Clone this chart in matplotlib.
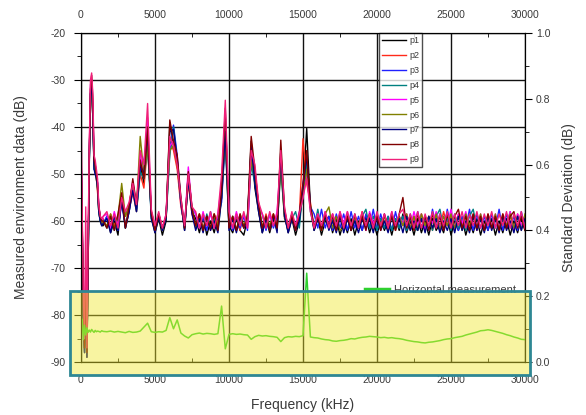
import numpy as np
import matplotlib
matplotlib.use('Agg')
import matplotlib.pyplot as plt
from matplotlib.patches import Rectangle
from matplotlib.lines import Line2D
from matplotlib.ticker import MultipleLocator

plt.rcParams['font.family'] = ['Liberation Sans', 'DejaVu Sans']
plt.rcParams['axes.unicode_minus'] = False

# frequency grid
freq_low = [0, 80, 160, 240, 320, 400, 480, 560, 640, 720, 800, 880, 960,
            1040, 1120, 1200, 1300, 1400, 1500]
freq = np.concatenate([freq_low, np.arange(1750, 30001, 250)])

labels = ['p1', 'p2', 'p3', 'p4', 'p5', 'p6', 'p7', 'p8', 'p9']
colors = ['black', '#ff2a1a', '#2020ff', '#008080', '#ff00ff', '#808000', '#000080', '#800000', '#f0207a']

p1 = [-46, -62, -82, -88, -74, -89, -70, -47, -33, -31, -38, -48, -49, -50, -53, -58, -60, -61, -61,
      -59, -62.5, -60, -63,
      -55, -61.5, -58, -53, -57, -48, -52, -42, -59, -62.5, -59.5, -63, -60, -39, -44, -48, -56, -62, -51, -58,
      -59.5, -62.5, -59, -63, -60, -62.5, -59, -54, -40, -61, -62.5, -59.5, -62, -63, -59.5, -43, -53, -58, -62.5, -59.5,
      -62.5, -59.5, -62, -45, -58.5, -62.5, -59.5, -63, -60, -54, -40.3, -57, -62, -59.5, -63, -60, -59, -62.5, -59.5, -63,
      -60, -62.5, -59.5, -63, -60, -62, -59, -62.5, -60, -63, -59.5, -62, -60, -63, -59.5, -62, -58.5, -62.5, -60, -63,
      -59.5, -62.5, -60, -63, -59.5, -62, -60.5, -62.5, -59, -63, -60, -62, -59.5, -63, -60, -62.5, -59.5, -63, -60, -62,
      -59.5, -63, -60, -62.5, -59.5, -63, -60, -62.5, -59.5, -62]
p2 = [-45, -60, -79, -86, -71, -87, -68, -46, -32, -30, -37, -47, -48, -51, -54, -57, -59, -60.5, -59.5,
      -61.5, -58.5, -61, -59,
      -56, -59, -57.5, -54, -58, -50, -53, -44, -58, -61.5, -58.5, -61.5, -59, -43, -45, -49, -57, -61, -52, -58.5,
      -61, -58.5, -61.5, -59, -62, -58.5, -60.5, -55, -38, -58.5, -61.5, -59, -62, -58.5, -61, -46, -50, -57, -61.5, -58.5,
      -61.5, -58.5, -61, -47, -59, -62, -58.5, -61.5, -59, -42.5, -52, -56, -61.5, -58.5, -62, -59, -61.5, -58.5, -61, -59,
      -61.5, -58.5, -62, -59, -61, -58, -61.5, -59, -62, -58.5, -61, -59, -62, -58.5, -61.5, -59, -61, -58.5, -62, -59,
      -61.5, -58.5, -61, -59, -62, -58.5, -61.5, -58, -61, -59, -62, -58.5, -61.5, -59, -61, -58.5, -62, -59, -61.5, -58.5,
      -61, -59, -62, -58.5, -61.5, -59, -62, -58.5, -61, -59]
p3 = [-45, -61, -80, -87, -73, -88, -69, -48, -34, -32, -36, -48, -50, -50, -52, -57, -59, -60, -60.5,
      -59, -61.5, -58.5, -62,
      -55.5, -61, -58, -52, -57.5, -49, -47, -43, -58.5, -61.5, -58.5, -62, -59, -45, -39.6, -46, -56, -61.5, -50, -57.5,
      -58.5, -61.5, -59, -62, -58, -61.5, -59, -56, -42, -58.5, -62, -58.5, -61.5, -59, -62, -47, -51, -57.5, -58.5, -62,
      -58.5, -61.5, -59, -48, -58, -61.5, -58.5, -62, -59, -52, -47, -57, -58.5, -61.5, -57.5, -61.5, -59, -62, -58.5, -61.5,
      -58.5, -62, -58, -61.5, -59, -62, -58.5, -61.5, -57.5, -62, -58.5, -61.5, -59, -62, -58, -61.5, -59, -62, -58.5, -61.5,
      -58, -61.5, -59, -62, -57.5, -61.5, -58.5, -62, -57.5, -61.5, -58.5, -62, -59, -61.5, -57.5, -62, -58.5, -61.5, -59, -62,
      -58.5, -61.5, -57.5, -62, -58.5, -61.5, -59, -62, -58, -61.5]
p4 = [-46, -63, -81, -88, -75, -87, -70, -47, -33, -31, -37, -49, -49, -51, -53, -58, -60, -59.5, -60,
      -61.5, -59, -62, -59.5,
      -55, -61.5, -57, -53, -58, -49.5, -51, -44, -59.5, -62, -59, -61.5, -59.5, -46, -40, -47, -55.5, -61.5, -51, -58,
      -61.5, -59, -62, -58.5, -61.5, -59.5, -62, -55, -43, -61.5, -59, -62, -59.5, -61.5, -58.5, -48, -52, -56.5, -61.5, -59,
      -62, -59, -61.5, -49, -59, -62, -59.5, -58, -61.5, -53, -48, -58, -61.5, -57.5, -62, -59, -61.5, -59.5, -62, -59,
      -61.5, -59, -62, -59.5, -61.5, -59, -57.5, -61.5, -59, -62, -59.5, -61.5, -59, -62, -59.5, -61.5, -59, -62, -59.5, -61.5,
      -62, -59, -61.5, -59.5, -62, -59, -57.5, -61.5, -59.5, -62, -59, -61.5, -59.5, -62, -59, -57.5, -61.5, -59, -62, -59.5,
      -61.5, -59, -62, -59.5, -61.5, -58, -62, -59, -61.5, -59.5]
p5 = [-44, -59, -78, -86, -70, -86, -66, -45, -31, -30, -35, -47, -48, -50, -52, -57, -59.5, -60, -59,
      -58.5, -61.5, -58, -61,
      -55.5, -58.5, -57, -51.5, -57, -46, -50, -38, -58, -61, -58.5, -61.5, -58.5, -44, -43, -47, -56.5, -61, -48.5, -57,
      -58.5, -61.5, -58, -61, -58.5, -61.5, -58.5, -52, -37, -58.5, -61.5, -58, -61, -58.5, -61.5, -45, -49, -57, -58.5, -61.5,
      -58.5, -61, -58, -46, -58, -61.5, -58.5, -61, -58, -55, -50, -57.5, -61, -58.5, -61.5, -58, -61, -58.5, -61.5, -58,
      -60.5, -58, -61.5, -59, -61, -58.5, -62, -58, -60.5, -59, -61.5, -58.5, -61, -58, -62, -59, -60.5, -58.5, -61.5, -58,
      -61, -58.5, -62, -59, -60.5, -58, -61.5, -59, -61, -57.5, -61.5, -58.5, -60.5, -58, -62, -59, -61, -58.5, -61.5, -59,
      -61, -58.5, -61.5, -59, -60.5, -58, -62, -58.5, -61, -59]
p6 = [-46, -62, -80, -87, -73, -88, -69, -48, -34, -32, -38, -48, -49, -51, -53, -57.5, -59.5, -60.5, -60,
      -61, -58.5, -61.5, -59,
      -52, -59, -56.5, -52, -57, -42, -50, -44, -58, -61.5, -58.5, -62, -59, -45, -44, -48, -56, -61.5, -50, -57,
      -61.5, -58.5, -62, -59, -61.5, -58.5, -61, -54, -41, -61.5, -59, -62, -58.5, -61, -59, -47, -51, -56, -61.5, -59,
      -61, -58.5, -62, -48, -59.5, -61.5, -58.5, -62, -59, -54, -49, -56.5, -61.5, -59, -62, -58.5, -57, -61.5, -59, -62,
      -61.5, -58.5, -62, -59, -61, -58.5, -61.5, -59, -62, -58.5, -61, -59, -61.5, -58.5, -62, -59, -61, -58.5, -61.5, -59,
      -62, -58.5, -61, -59, -61.5, -58.5, -62, -59, -61, -58.5, -61.5, -59, -62, -58.5, -61, -59, -61.5, -58.5, -62, -59,
      -61.5, -58.5, -62, -59, -61, -58.5, -61.5, -59, -62, -58.5]
p7 = [-45, -61, -81, -88, -74, -89, -70, -47, -33, -31, -38, -49, -50, -51, -53, -58, -60, -61, -60.5,
      -59.5, -62.5, -59, -62,
      -56, -61.5, -58, -53.5, -58, -48, -50, -41, -59.5, -62.5, -59, -62, -59.5, -41, -40.5, -47, -56, -62, -51, -58.5,
      -62, -59.5, -62.5, -59, -62, -60, -62.5, -55, -41, -62, -59.5, -62.5, -59, -61.5, -59.5, -44, -52, -58, -62.5, -59.5,
      -62, -59, -62.5, -46, -59, -62.5, -59.5, -62, -60, -53, -46, -57, -62, -59.5, -61.5, -59, -62, -60, -62.5, -59,
      -62.5, -59.5, -62, -60, -62.5, -59.5, -61.5, -59.5, -62.5, -59, -62, -60, -62.5, -59, -61.5, -59.5, -62.5, -59, -62, -60,
      -62, -59.5, -62.5, -59, -61.5, -59.5, -62.5, -60, -62, -59.5, -62.5, -59, -62, -60, -62.5, -59, -62, -59.5, -62.5, -59,
      -62, -59.5, -62.5, -59, -62, -60, -62.5, -59, -62, -59.5]
p8 = [-45, -60, -79, -87, -72, -88, -67, -46, -32, -29, -34, -47, -48, -50, -52, -57, -59, -60, -60,
      -61.5, -59, -62, -58.5,
      -54, -61.5, -57, -51, -56.5, -47, -51, -40, -58.5, -62, -58.5, -61.5, -59, -38.5, -43, -46, -55, -61.5, -49.5, -57.5,
      -61, -58.5, -62, -59, -61.5, -58.5, -62, -53, -36, -61.5, -59, -62, -58.5, -61.5, -59, -42, -49, -56.5, -61.5, -59,
      -62, -58.5, -61.5, -42.8, -57.5, -61.5, -59, -62, -58.5, -52, -45, -57, -61.5, -59, -62, -58.5, -61, -59, -62, -58.5,
      -61.5, -59, -62, -58.5, -61.5, -59, -62, -58.5, -61.5, -59, -62, -58.5, -61.5, -59, -62, -58.5, -55, -61.5, -59, -62,
      -58.5, -61.5, -59, -62, -58.5, -61.5, -59, -62, -58.5, -61.5, -59, -57.5, -61.5, -59, -62, -58.5, -61.5, -59, -62, -58.5,
      -61.5, -59, -62, -58.5, -61.5, -59, -58, -61.5, -59, -62]
p9 = [-34, -58, -76, -85, -57, -87, -64, -44, -30, -28.5, -33, -46, -47, -49, -51, -56.5, -59, -59.5, -59,
      -58, -61, -58.5, -61.5,
      -55, -58, -56, -52, -56.5, -45, -48, -35, -57.5, -61, -58, -61.5, -58.5, -42, -44, -48, -55, -61, -50, -57,
      -58, -61.5, -58.5, -61, -58, -61.5, -58.5, -50, -34.3, -58, -61.5, -58.5, -61, -58, -61.5, -45, -48, -56, -58.5, -61.5,
      -58, -61, -58.5, -45, -57, -61.5, -58, -61, -58.5, -55, -51, -58, -61.5, -58.5, -61, -58, -61.5, -58.5, -61, -58,
      -61.5, -58, -61, -58.5, -61.5, -58, -61, -58.5, -61.5, -58, -61, -58.5, -61.5, -58, -61, -58.5, -57.5, -61, -58.5, -61.5,
      -58, -61.5, -58.5, -61, -58, -61.5, -58.5, -61, -58, -61.5, -58.5, -61, -58, -61.5, -58.5, -61, -58, -61.5, -58.5, -61,
      -58, -61.5, -58.5, -61, -58, -61.5, -58.5, -61, -58, -61.5]
series = [p1, p2, p3, p4, p5, p6, p7, p8, p9]

# standard deviation of the horizontal measurement (right axis)
std_dev = [0.100, 0.130, 0.068, 0.112, 0.082, 0.104, 0.090, 0.097, 0.091, 0.099, 0.094, 0.090, 0.096,
           0.092, 0.094, 0.093, 0.091, 0.095, 0.093,
           0.092, 0.094, 0.091, 0.093,
           0.091, 0.089, 0.093, 0.090, 0.091, 0.094, 0.106, 0.118, 0.092, 0.090, 0.092, 0.091, 0.096, 0.135,
           0.101, 0.128, 0.088, 0.079, 0.073, 0.083,
           0.086, 0.088, 0.085, 0.087, 0.086, 0.084, 0.086, 0.170, 0.040, 0.084, 0.086, 0.084, 0.085, 0.083,
           0.082, 0.069, 0.077, 0.081, 0.079, 0.080,
           0.078, 0.077, 0.075, 0.062, 0.074, 0.077, 0.076, 0.078, 0.077, 0.080, 0.270, 0.076, 0.074, 0.073,
           0.070, 0.068, 0.067, 0.064, 0.063, 0.065,
           0.066, 0.068, 0.071, 0.070, 0.073, 0.075, 0.076, 0.078, 0.077, 0.076, 0.074, 0.075, 0.073, 0.074,
           0.072, 0.071, 0.069, 0.066, 0.064, 0.062,
           0.061, 0.059, 0.058, 0.060, 0.061, 0.063, 0.065, 0.068, 0.070, 0.071, 0.074, 0.076, 0.078, 0.082,
           0.085, 0.088, 0.091, 0.095, 0.096, 0.098,
           0.096, 0.093, 0.090, 0.087, 0.083, 0.080, 0.076, 0.073, 0.069, 0.068]

text_color = '#3a3a3a'

fig = plt.figure(figsize=(5.86, 4.15), dpi=100)
ax = fig.add_axes([81 / 586, 1 - 362 / 415, 444 / 586, 329 / 415])

for vals, lab, col in zip(series, labels, colors):
    ax.plot(freq, vals, color=col, lw=1.0, label=lab)

ax.set_xlim(0, 30000)
ax.set_ylim(-90, -20)
ax.xaxis.set_major_locator(MultipleLocator(5000))
ax.xaxis.set_minor_locator(MultipleLocator(2500))
ax.yaxis.set_major_locator(MultipleLocator(10))
ax.yaxis.set_minor_locator(MultipleLocator(5))
ax.grid(True, which='major', color='#111111', lw=1.0)
ax.tick_params(axis='x', which='both', direction='in', top=True, bottom=True,
               labeltop=True, labelsize=7.5, labelcolor=text_color, pad=9)
ax.tick_params(axis='x', which='major', length=0)
ax.tick_params(axis='x', which='minor', length=3)
ax.tick_params(axis='y', which='major', direction='out', length=5, labelsize=7.5,
               labelcolor=text_color, pad=6)
ax.tick_params(axis='y', which='minor', direction='out', length=3)
ax.set_xlabel('Frequency (kHz)', fontsize=10, color=text_color, labelpad=10)
ax.set_ylabel('Measured environment data (dB)', fontsize=10, color=text_color, labelpad=16)

leg = ax.legend(loc='upper left', bbox_to_anchor=(0.671, 1.0), borderaxespad=0,
                fontsize=6.5, frameon=True, fancybox=False, edgecolor='#222222',
                handlelength=2.6, handletextpad=0.4, labelspacing=0.65, borderpad=0.35)
leg.get_frame().set_linewidth(1.0)
for t in leg.get_texts():
    t.set_color(text_color)

ax2 = ax.twinx()
ax2.plot(freq, std_dev, color='#2fd02f', lw=1.1)
ax2.set_ylim(0, 1.0)
ax2.yaxis.set_major_locator(MultipleLocator(0.2))
ax2.yaxis.set_minor_locator(MultipleLocator(0.1))
ax2.tick_params(axis='y', which='major', direction='out', length=5, labelsize=7.5,
                labelcolor=text_color, pad=3)
ax2.tick_params(axis='y', which='minor', direction='out', length=3)
ax2.set_ylabel('Standard Deviation (dB)', fontsize=10, color=text_color, labelpad=8)

h_handle = Line2D([], [], color='#2fd02f', lw=2.5)
ax2.legend([h_handle], ['Horizontal measurement'], loc='center left',
           bbox_to_anchor=(0.618, 0.219), frameon=False, fontsize=8,
           handlelength=2.1, handletextpad=0.45, labelcolor=text_color)

# highlight box around the low region
box = Rectangle((-750, -92.8), 31100, 17.9, transform=ax.transData,
                facecolor=(0.94, 0.91, 0.19, 0.45), edgecolor='#2e8794', lw=2.0,
                clip_on=False, zorder=10)
ax2.add_patch(box)

fig.savefig('out.png', dpi=100)
